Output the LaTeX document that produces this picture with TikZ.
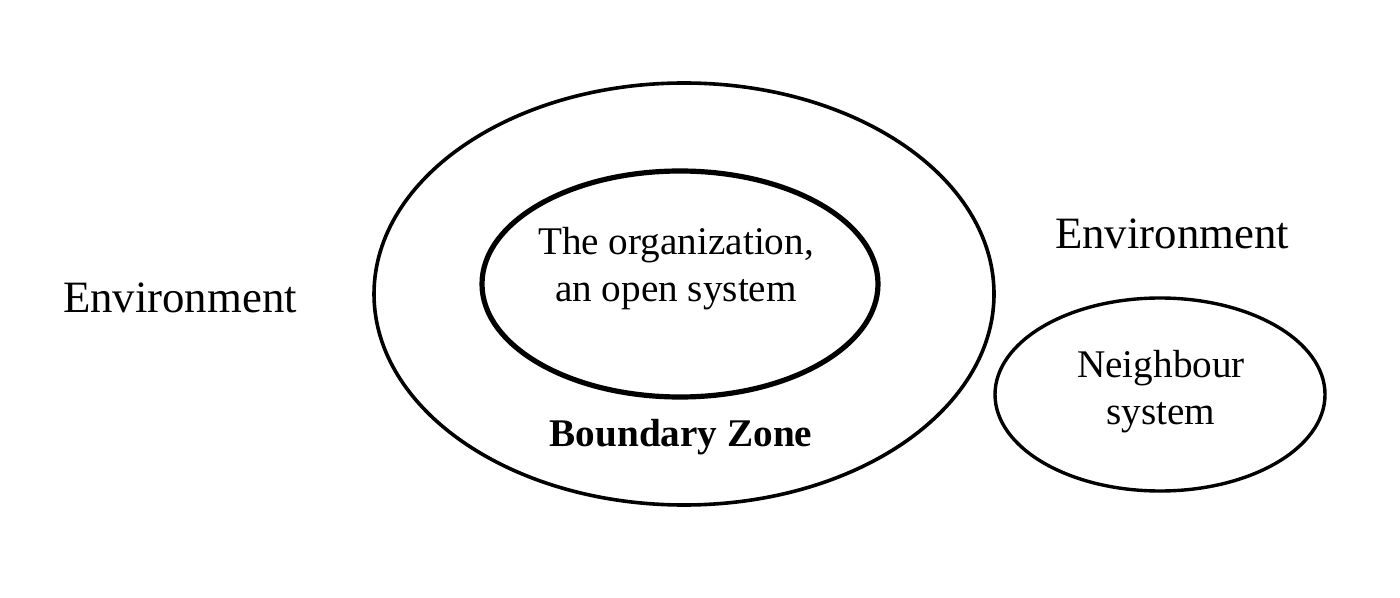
\documentclass[tikz,border=0pt]{standalone}
\usepackage{fontspec}
\setmainfont{Liberation Serif}
\usetikzlibrary{shapes.geometric}
\begin{document}
\begin{tikzpicture}[x=0.5pt,y=-0.5pt,
  oval/.style={ellipse,draw=black,inner sep=0pt,outer sep=0pt},
  lbl/.style={font=\fontsize{19.6pt}{23.5pt}\selectfont,align=center,inner sep=0pt},
  envlbl/.style={font=\fontsize{22.4pt}{26pt}\selectfont,inner sep=0pt}]
\useasboundingbox[fill=white] (0,0) rectangle (1400,598);
\node[oval,line width=1.8pt,minimum width=310pt,minimum height=211pt] (outer) at (684,294) {};
\node[oval,line width=2.6pt,minimum width=198pt,minimum height=113pt] (inner) at (680,284) {};
\node[oval,line width=1.7pt,minimum width=165pt,minimum height=96.5pt] (neigh) at (1160,394.5) {};
\node[lbl] (org) at (676,269) {The organization,\\an open system};
\node[lbl,font=\fontsize{19.6pt}{23.5pt}\selectfont\bfseries] (bz) at (681,437) {Boundary Zone};
\node[lbl] (nb) at (1161,392) {Neighbour\\system};
\node[envlbl] (envL) at (180,298) {Environment};
\node[envlbl] (envR) at (1172,234) {Environment};
\end{tikzpicture}
\end{document}
